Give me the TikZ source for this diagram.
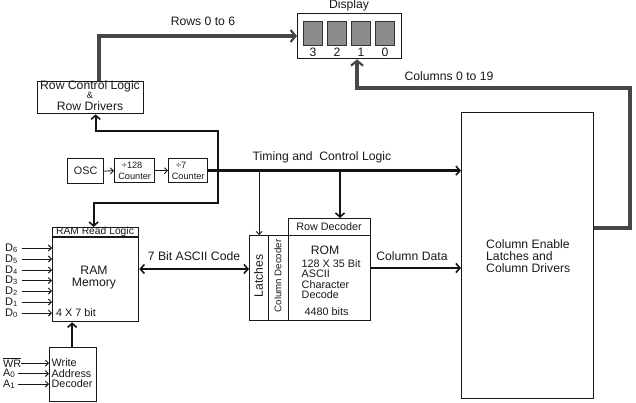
\documentclass[tikz,border=0pt]{standalone}
\usepackage{fontspec}
\setmainfont{Liberation Sans}
\usetikzlibrary{arrows.meta}
\begin{document}
\begin{tikzpicture}[x=1pt,y=-1pt,
  box/.style={draw=black!90, line width=1.3pt, inner sep=0pt},
  f/.style={font=\fontsize{12.2}{12}\selectfont, inner sep=0pt, text=black!90},
  fs/.style={font=\fontsize{10.8}{10.6}\selectfont, inner sep=0pt, text=black!90},
  fc/.style={font=\fontsize{9.2}{10.5}\selectfont, inner sep=0pt, text=black!90},
  fd/.style={font=\fontsize{11}{11}\selectfont, inner sep=0pt, text=black!90},
  gbus/.style={line width=4pt, draw=black!72, -{Straight Barb[length=5pt,width=12pt,line width=2.2pt]}},
  bbus/.style={line width=2.3pt, draw=black!92},
  barr/.style={-{Straight Barb[length=4pt,width=9pt,line width=1.6pt]}},
  tline/.style={line width=0.9pt, draw=black!90},
  tarr/.style={-{Straight Barb[length=3pt,width=6pt,line width=0.9pt]}},
  digit/.style={draw=black!80, fill=black!45, line width=0.8pt, inner sep=0pt, minimum width=19pt, minimum height=24pt, anchor=north west}
]
\useasboundingbox (0,0) rectangle (636,403);

% Display
\node[box, anchor=north west, minimum width=104pt, minimum height=45pt] (disp) at (297,13) {};
\node[f] (disptitle) at (349,5) {Display};
\node[digit] (dg3) at (303,21) {};
\node[digit] (dg2) at (327,21) {};
\node[digit] (dg1) at (351,21) {};
\node[digit] (dg0) at (375,21) {};
\node[f] (n3) at (dg3.south |- 0,52) {3};
\node[f] (n2) at (dg2.south |- 0,52) {2};
\node[f] (n1) at (dg1.south |- 0,52) {1};
\node[f] (n0) at (dg0.south |- 0,52) {0};

% Row control logic
\node[box, anchor=north west, minimum width=106pt, minimum height=32pt] (rcl) at (37,81) {};
\node[f] (rcl1) at (90,86.5) {Row Control Logic};
\node[fc] (rcl2) at (90,95.5) {\&};
\node[f] (rcl3) at (90,106) {Row Drivers};

% Oscillator and counters
\node[box, anchor=north west, minimum width=36pt, minimum height=25pt] (osc) at (67,158) {};
\node[fs] (osctxt) at (osc.center) {OSC};
\node[box, anchor=north west, minimum width=40pt, minimum height=24pt] (c128) at (114,158) {};
\node[fc, align=center] (c128txt) at (c128.center) {\hspace*{-5pt}÷128\\Counter};
\node[box, anchor=north west, minimum width=39pt, minimum height=24pt] (c7) at (168,158) {};
\node[fc, align=center] (c7txt) at (c7.center) {\hspace*{-14pt}÷7\\Counter};

% RAM
\node[box, anchor=north west, minimum width=86pt, minimum height=94pt] (ram) at (52,227) {};
\draw[box] (ram.north west |- 0,237) -- (ram.north east |- 0,237);
\node[fs, font=\fontsize{10.3}{10}\selectfont] (ramrl) at (95,232) {RAM Read Logic};
\node[f, align=center] (ramtxt) at (94,277.5) {RAM\\Memory};
\node[fs, anchor=west] (ramsz) at (56,313) {4 X 7 bit};

% Write address decoder
\node[box, anchor=north west, minimum width=47pt, minimum height=54pt] (wr) at (49,347) {};
\node[fs, align=left, anchor=west] (wrtxt) at (51.5,373.5) {Write\\Address\\Decoder};

% Latches / ROM
\node[box, anchor=north west, minimum width=19pt, minimum height=85pt] (latch) at (249,235) {};
\node[box, anchor=north west, minimum width=20pt, minimum height=85pt] (coldec) at (268,235) {};
\node[box, anchor=north west, minimum width=82pt, minimum height=17pt] (rowdec) at (288,218) {};
\node[box, anchor=north west, minimum width=82pt, minimum height=85pt] (rom) at (288,235) {};
\node[f, rotate=90] (latchtxt) at (258.5,276) {Latches};
\node[fc, rotate=90, font=\fontsize{9.7}{10}\selectfont] (coldectxt) at (278,276) {Column Decoder};
\node[fs] (rowdectxt) at (329,226.5) {Row Decoder};
\node[f] (romtxt) at (325,250) {ROM};
\node[fs, anchor=west] (romt1) at (301.5,264) {128 X 35 Bit};
\node[fs, align=left, anchor=north west] (romt2) at (301.5,270) {ASCII\\Character\\Decode};
\node[fs] (romt3) at (326.5,312) {4480 bits};

% Column enable
\node[box, anchor=north west, minimum width=132pt, minimum height=286pt] (ce) at (461,112) {};
\node[f, align=left, anchor=west] (cetxt) at (486,256) {Column Enable\\Latches and\\Column Drivers};

% Labels
\node[f] (rowslbl) at (203,21) {Rows 0 to 6};
\node[f] (collbl) at (449,76) {Columns 0 to 19};
\node[f] (timlbl) at (322,157) {Timing and~~Control Logic};
\node[f] (asclbl) at (194,256) {7 Bit ASCII Code};
\node[f] (cdlbl) at (412,256) {Column Data};

% Thick gray buses
\draw[gbus] ([xshift=8pt]rcl.north) |- (0,36 -| disp.west);
\draw[gbus] (ce.east |- 0,228) -| (630,88) -| (357,0 |- disp.south);

% Counter chain
\draw[tline, tarr] (osc.east) -- (c128.west);
\draw[tline, tarr] (c128.east) -- (c7.west);

% Timing bus
\draw[bbus, barr] (c7.east) -- (c7.east -| ce.west);
\coordinate (jn) at (218,170);
\draw[bbus, barr] (jn) -- (218,131) -| ([xshift=5pt]rcl.south);
\draw[bbus, barr] (jn) -- (218,203) -| ([xshift=-2pt]ram.north);
\draw[tline, tarr] (latch.north |- jn) -- (latch.north);
\draw[bbus, barr] (rowdec.north -| 340,0) ++(0,-48) -- (rowdec.north -| 340,0);

% Data paths
\draw[bbus, {Straight Barb[length=4pt,width=9pt,line width=1.6pt]}-{Straight Barb[length=4pt,width=9pt,line width=1.6pt]}] (ram.east |- 0,269) -- (latch.west |- 0,269);
\draw[bbus, barr] (rom.east |- 0,268) -- (ce.west |- 0,268);
\draw[bbus, barr] ([xshift=-1pt]wr.north) -- ([xshift=-1pt]wr.north |- ram.south);

% RAM data inputs
\foreach \i/\yy in {6/248,5/259,4/270,3/280.5,2/291,1/302,0/313}{
  \node[fd, anchor=west] (d\i) at (5,\yy) {D\raisebox{-1.2pt}{\fontsize{7.5}{7.5}\selectfont\i}};
  \draw[tline, tarr, shorten <=4pt] (d\i.east) -- (d\i.east -| ram.west);
}

% Write decoder inputs
\node[fs, anchor=west] (inwr) at (3,362.5) {$\overline{\hbox{WR}}$};
\node[fs, anchor=west] (ina0) at (3,373.5) {A\raisebox{-1.2pt}{\fontsize{8}{8}\selectfont 0}};
\node[fs, anchor=west] (ina1) at (3,384) {A\raisebox{-1.2pt}{\fontsize{8}{8}\selectfont 1}};
\draw[tline, tarr] (21,363) -- (wr.west |- 0,363);
\draw[tline, tarr, shorten <=3pt] (ina0.east) -- (ina0.east -| wr.west);
\draw[tline, tarr, shorten <=3pt] (ina1.east) -- (ina1.east -| wr.west);
\end{tikzpicture}
\end{document}
